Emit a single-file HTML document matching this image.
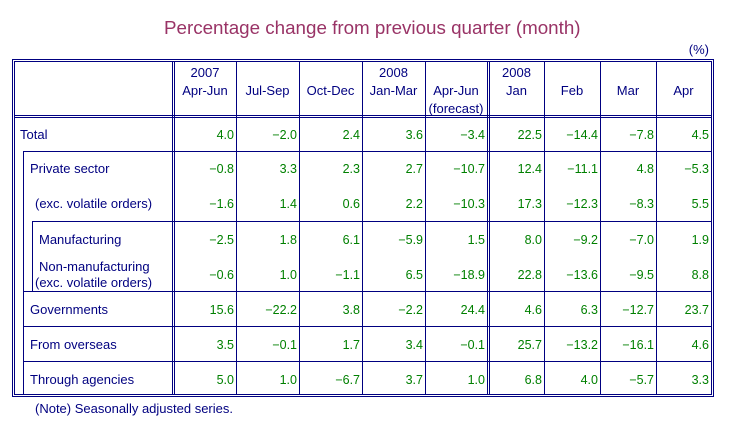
<!DOCTYPE html>
<html>
<head>
<meta charset="utf-8">
<style>
  html,body{margin:0;padding:0;background:#fff;}
  body{width:730px;height:434px;position:relative;overflow:hidden;font-family:"Liberation Sans",Arial,sans-serif;}
  .h{position:absolute;height:1px;background:#000080;}
  .v{position:absolute;width:1px;background:#000080;}
  .t{position:absolute;font-size:13px;line-height:13px;color:#000080;white-space:nowrap;}
  .c{position:absolute;font-size:13px;line-height:13px;color:#000080;white-space:nowrap;text-align:center;}
  .n{position:absolute;font-size:12.5px;line-height:12.5px;color:#008000;white-space:nowrap;text-align:right;}
  .title{position:absolute;left:164px;top:19.2px;font-size:18.8px;line-height:18.8px;color:#993366;white-space:nowrap;}
</style>
</head>
<body>
<div class="title">Percentage change from previous quarter (month)</div>
<div class="t" style="left:686px;top:43px;width:23px;text-align:right;">(%)</div>

<!-- horizontal lines -->
<div class="h" style="left:12px;top:59px;width:702px;"></div>
<div class="h" style="left:14px;top:61px;width:698px;"></div>
<div class="h" style="left:14px;top:115px;width:698px;"></div>
<div class="h" style="left:14px;top:117px;width:698px;"></div>
<div class="h" style="left:23px;top:151px;width:689px;"></div>
<div class="h" style="left:32px;top:221px;width:680px;"></div>
<div class="h" style="left:23px;top:291px;width:689px;"></div>
<div class="h" style="left:23px;top:326px;width:689px;"></div>
<div class="h" style="left:23px;top:361px;width:689px;"></div>
<div class="h" style="left:14px;top:394px;width:698px;"></div>
<div class="h" style="left:12px;top:396px;width:702px;"></div>

<!-- vertical lines -->
<div class="v" style="left:12px;top:59px;height:338px;"></div>
<div class="v" style="left:14px;top:61px;height:334px;"></div>
<div class="v" style="left:713px;top:59px;height:338px;"></div>
<div class="v" style="left:711px;top:61px;height:334px;"></div>
<div class="v" style="left:172px;top:61px;height:334px;"></div>
<div class="v" style="left:174px;top:61px;height:334px;"></div>
<div class="v" style="left:487px;top:61px;height:334px;"></div>
<div class="v" style="left:489px;top:61px;height:334px;"></div>
<div class="v" style="left:236px;top:61px;height:334px;"></div>
<div class="v" style="left:299px;top:61px;height:334px;"></div>
<div class="v" style="left:362px;top:61px;height:334px;"></div>
<div class="v" style="left:425px;top:61px;height:334px;"></div>
<div class="v" style="left:544px;top:61px;height:334px;"></div>
<div class="v" style="left:600px;top:61px;height:334px;"></div>
<div class="v" style="left:656px;top:61px;height:334px;"></div>
<div class="v" style="left:23px;top:151px;height:244px;"></div>
<div class="v" style="left:32px;top:221px;height:70px;"></div>

<!-- headers -->
<div class="c" style="left:174px;width:62px;top:66px;">2007</div>
<div class="c" style="left:174px;width:62px;top:84px;">Apr-Jun</div>
<div class="c" style="left:236px;width:63px;top:84px;">Jul-Sep</div>
<div class="c" style="left:299px;width:63px;top:84px;">Oct-Dec</div>
<div class="c" style="left:362px;width:63px;top:66px;">2008</div>
<div class="c" style="left:362px;width:63px;top:84px;">Jan-Mar</div>
<div class="c" style="left:425px;width:62px;top:84px;">Apr-Jun</div>
<div class="c" style="left:425px;width:62px;top:101.5px;">(forecast)</div>
<div class="c" style="left:489px;width:55px;top:66px;">2008</div>
<div class="c" style="left:489px;width:55px;top:84px;">Jan</div>
<div class="c" style="left:544px;width:56px;top:84px;">Feb</div>
<div class="c" style="left:600px;width:56px;top:84px;">Mar</div>
<div class="c" style="left:656px;width:55px;top:84px;">Apr</div>

<!-- row labels -->
<div class="t" style="left:20px;top:128.2px;">Total</div>
<div class="t" style="left:30px;top:162.2px;">Private sector</div>
<div class="t" style="left:35px;top:197.2px;">(exc. volatile orders)</div>
<div class="t" style="left:39px;top:233.2px;">Manufacturing</div>
<div class="t" style="left:39px;top:259.7px;">Non-manufacturing</div>
<div class="t" style="left:35px;top:276.2px;">(exc. volatile orders)</div>
<div class="t" style="left:30px;top:303.2px;">Governments</div>
<div class="t" style="left:30px;top:338.2px;">From overseas</div>
<div class="t" style="left:30px;top:373.2px;">Through agencies</div>
<div class="t" style="left:35px;top:402.2px;">(Note) Seasonally adjusted series.</div>

<!-- data: Total (baseline 139) -->
<div class="n" style="left:174px;width:60px;top:128.6px;">4.0</div>
<div class="n" style="left:236px;width:61px;top:128.6px;">−2.0</div>
<div class="n" style="left:299px;width:61px;top:128.6px;">2.4</div>
<div class="n" style="left:362px;width:61px;top:128.6px;">3.6</div>
<div class="n" style="left:425px;width:60px;top:128.6px;">−3.4</div>
<div class="n" style="left:489px;width:53px;top:128.6px;">22.5</div>
<div class="n" style="left:544px;width:54px;top:128.6px;">−14.4</div>
<div class="n" style="left:600px;width:54px;top:128.6px;">−7.8</div>
<div class="n" style="left:656px;width:53px;top:128.6px;">4.5</div>

<!-- Private sector (173) -->
<div class="n" style="left:174px;width:60px;top:162.6px;">−0.8</div>
<div class="n" style="left:236px;width:61px;top:162.6px;">3.3</div>
<div class="n" style="left:299px;width:61px;top:162.6px;">2.3</div>
<div class="n" style="left:362px;width:61px;top:162.6px;">2.7</div>
<div class="n" style="left:425px;width:60px;top:162.6px;">−10.7</div>
<div class="n" style="left:489px;width:53px;top:162.6px;">12.4</div>
<div class="n" style="left:544px;width:54px;top:162.6px;">−11.1</div>
<div class="n" style="left:600px;width:54px;top:162.6px;">4.8</div>
<div class="n" style="left:656px;width:53px;top:162.6px;">−5.3</div>

<!-- exc volatile (208) -->
<div class="n" style="left:174px;width:60px;top:197.6px;">−1.6</div>
<div class="n" style="left:236px;width:61px;top:197.6px;">1.4</div>
<div class="n" style="left:299px;width:61px;top:197.6px;">0.6</div>
<div class="n" style="left:362px;width:61px;top:197.6px;">2.2</div>
<div class="n" style="left:425px;width:60px;top:197.6px;">−10.3</div>
<div class="n" style="left:489px;width:53px;top:197.6px;">17.3</div>
<div class="n" style="left:544px;width:54px;top:197.6px;">−12.3</div>
<div class="n" style="left:600px;width:54px;top:197.6px;">−8.3</div>
<div class="n" style="left:656px;width:53px;top:197.6px;">5.5</div>

<!-- Manufacturing (244) -->
<div class="n" style="left:174px;width:60px;top:233.6px;">−2.5</div>
<div class="n" style="left:236px;width:61px;top:233.6px;">1.8</div>
<div class="n" style="left:299px;width:61px;top:233.6px;">6.1</div>
<div class="n" style="left:362px;width:61px;top:233.6px;">−5.9</div>
<div class="n" style="left:425px;width:60px;top:233.6px;">1.5</div>
<div class="n" style="left:489px;width:53px;top:233.6px;">8.0</div>
<div class="n" style="left:544px;width:54px;top:233.6px;">−9.2</div>
<div class="n" style="left:600px;width:54px;top:233.6px;">−7.0</div>
<div class="n" style="left:656px;width:53px;top:233.6px;">1.9</div>

<!-- Non-manufacturing (279) -->
<div class="n" style="left:174px;width:60px;top:268.6px;">−0.6</div>
<div class="n" style="left:236px;width:61px;top:268.6px;">1.0</div>
<div class="n" style="left:299px;width:61px;top:268.6px;">−1.1</div>
<div class="n" style="left:362px;width:61px;top:268.6px;">6.5</div>
<div class="n" style="left:425px;width:60px;top:268.6px;">−18.9</div>
<div class="n" style="left:489px;width:53px;top:268.6px;">22.8</div>
<div class="n" style="left:544px;width:54px;top:268.6px;">−13.6</div>
<div class="n" style="left:600px;width:54px;top:268.6px;">−9.5</div>
<div class="n" style="left:656px;width:53px;top:268.6px;">8.8</div>

<!-- Governments (314) -->
<div class="n" style="left:174px;width:60px;top:303.6px;">15.6</div>
<div class="n" style="left:236px;width:61px;top:303.6px;">−22.2</div>
<div class="n" style="left:299px;width:61px;top:303.6px;">3.8</div>
<div class="n" style="left:362px;width:61px;top:303.6px;">−2.2</div>
<div class="n" style="left:425px;width:60px;top:303.6px;">24.4</div>
<div class="n" style="left:489px;width:53px;top:303.6px;">4.6</div>
<div class="n" style="left:544px;width:54px;top:303.6px;">6.3</div>
<div class="n" style="left:600px;width:54px;top:303.6px;">−12.7</div>
<div class="n" style="left:656px;width:53px;top:303.6px;">23.7</div>

<!-- From overseas (349) -->
<div class="n" style="left:174px;width:60px;top:338.6px;">3.5</div>
<div class="n" style="left:236px;width:61px;top:338.6px;">−0.1</div>
<div class="n" style="left:299px;width:61px;top:338.6px;">1.7</div>
<div class="n" style="left:362px;width:61px;top:338.6px;">3.4</div>
<div class="n" style="left:425px;width:60px;top:338.6px;">−0.1</div>
<div class="n" style="left:489px;width:53px;top:338.6px;">25.7</div>
<div class="n" style="left:544px;width:54px;top:338.6px;">−13.2</div>
<div class="n" style="left:600px;width:54px;top:338.6px;">−16.1</div>
<div class="n" style="left:656px;width:53px;top:338.6px;">4.6</div>

<!-- Through agencies (384) -->
<div class="n" style="left:174px;width:60px;top:373.6px;">5.0</div>
<div class="n" style="left:236px;width:61px;top:373.6px;">1.0</div>
<div class="n" style="left:299px;width:61px;top:373.6px;">−6.7</div>
<div class="n" style="left:362px;width:61px;top:373.6px;">3.7</div>
<div class="n" style="left:425px;width:60px;top:373.6px;">1.0</div>
<div class="n" style="left:489px;width:53px;top:373.6px;">6.8</div>
<div class="n" style="left:544px;width:54px;top:373.6px;">4.0</div>
<div class="n" style="left:600px;width:54px;top:373.6px;">−5.7</div>
<div class="n" style="left:656px;width:53px;top:373.6px;">3.3</div>
</body>
</html>
